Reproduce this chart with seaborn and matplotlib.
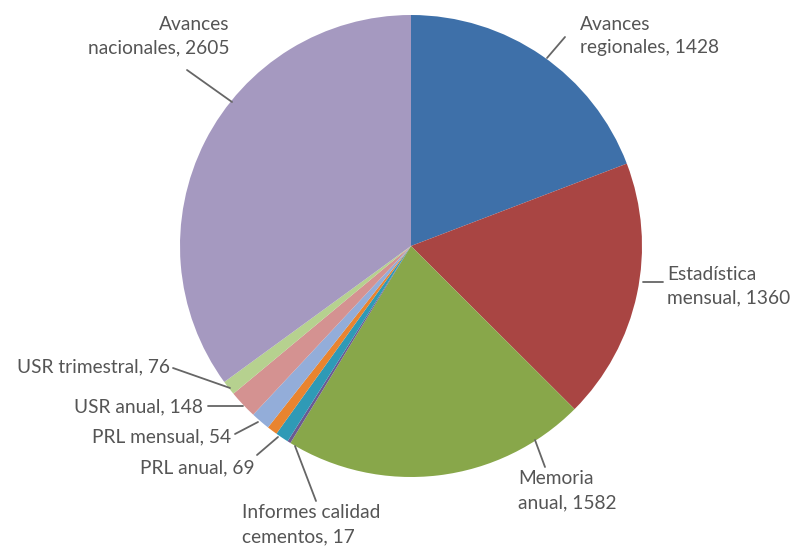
import matplotlib.pyplot as plt
import seaborn as sns

# data (clockwise from 12 o'clock)
categories = ['Avances regionales', 'Estadística mensual', 'Memoria anual',
              'Informes calidad cementos', 'PRL anual', 'PRL mensual',
              'Sin etiqueta', 'USR anual', 'USR trimestral', 'Avances nacionales']
values = [1428, 1360, 1582, 17, 69, 54, 100, 148, 76, 2605]
labels = ['Avances\nregionales, 1428', 'Estadística\nmensual, 1360', 'Memoria\nanual, 1582',
          'Informes calidad\ncementos, 17', 'PRL anual, 69', 'PRL mensual, 54',
          None, 'USR anual, 148', 'USR trimestral, 76', 'Avances\nnacionales, 2605']

colors = ['#3E70A9', '#A94543', '#88A74A', '#6A5A92', '#2F9AB6', '#E9842F',
          '#93ADD9', '#D49291', '#B6D18F', '#A599C0']

W, H = 805, 547

# label layout in pixels: text anchor, alignment, leader line (from, to)
label_layout = [
    ((580, 36), 'left', (565, 37), (547, 58)),
    ((667, 286), 'left', (663, 282), (643, 282)),
    ((518, 491), 'left', (545, 467), (535, 440)),
    ((242, 525), 'left', (316, 501), (295, 446)),
    ((255, 468), 'right', (257, 455), (278, 437)),
    ((231, 437), 'right', (235, 434), (258, 422)),
    None,
    ((203, 407), 'right', (208, 406), (243, 406)),
    ((170, 367), 'right', (173, 368), (230, 388)),
    ((229, 36), 'right', (187, 70), (232, 102)),
]


def fig_xy(p):
    return (p[0] / W, 1 - p[1] / H)


sns.set_theme(style='white')
plt.rcParams['font.family'] = ['Lato', 'DejaVu Sans']

fig = plt.figure(figsize=(W / 100, H / 100), dpi=100)
cx, cy, r = 411, 246, 231
ax = fig.add_axes([(cx - r) / W, 1 - (cy + r) / H, 2 * r / W, 2 * r / H])
ax.pie(values, colors=colors, startangle=90, counterclock=False, radius=1,
       wedgeprops={'linewidth': 0})
ax.set_xlim(-1, 1)
ax.set_ylim(-1, 1)
ax.set_aspect('equal')
ax.axis('off')

text_color = '#555555'
for lab, lay in zip(labels, label_layout):
    if lab is None or lay is None:
        continue
    pos, ha, p0, p1 = lay
    fig.text(*fig_xy(pos), lab, ha=ha, va='center', fontsize=13.8,
             color=text_color, linespacing=1.5)
    x0, y0 = fig_xy(p0)
    x1, y1 = fig_xy(p1)
    fig.add_artist(plt.Line2D([x0, x1], [y0, y1], transform=fig.transFigure,
                              color='#666666', linewidth=1.3))

fig.savefig('out.png', dpi=100)
